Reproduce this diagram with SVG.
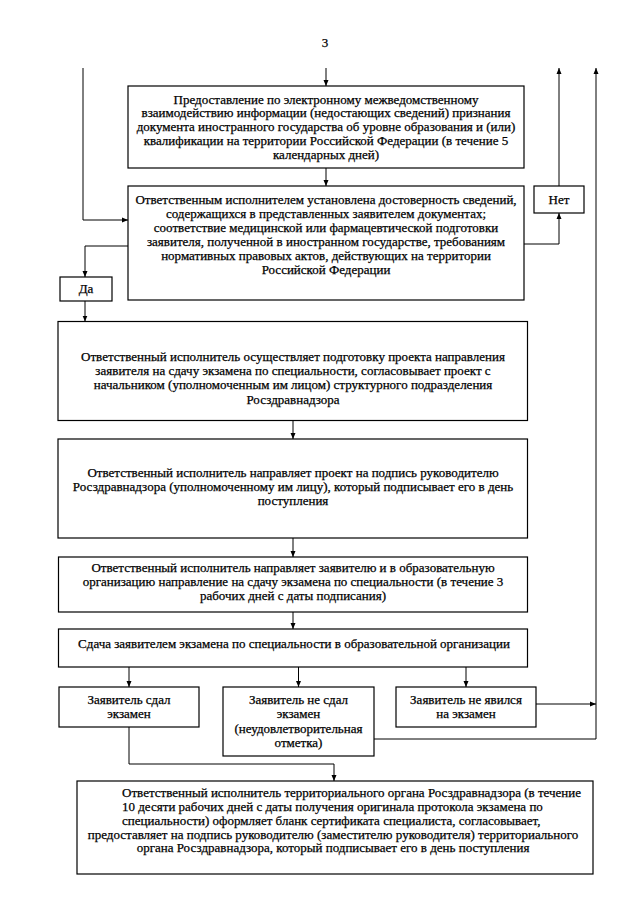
<svg xmlns="http://www.w3.org/2000/svg" width="640" height="905" viewBox="0 0 640 905">
<defs>
<style>
.box{fill:#fff;stroke:#000;stroke-width:1.2}
.t{font-family:"Liberation Serif","Times New Roman",serif;font-size:13px;fill:#000;stroke:#000;stroke-width:0.25;text-anchor:middle}
.ts{text-anchor:start}
.c{fill:none;stroke:#000;stroke-width:1}
</style>
<marker id="ah" markerUnits="userSpaceOnUse" markerWidth="6" markerHeight="6" refX="6" refY="3" orient="auto">
<path d="M0,0.5 L6,3 L0,5.5 z" fill="#000"/>
</marker>
</defs>
<rect width="640" height="905" fill="#fff"/>
<text class="t" x="325" y="47">3</text>
<g id="connectors">
<path class="c" d="M326,68 V86" marker-end="url(#ah)"/>
<path class="c" d="M326,168 V186" marker-end="url(#ah)"/>
<path class="c" d="M83,68 V220 H128" marker-end="url(#ah)"/>
<path class="c" d="M524,244 H559 V213" marker-end="url(#ah)"/>
<path class="c" d="M559,186 V68" marker-end="url(#ah)"/>
<path class="c" d="M128,246 H85 V277" marker-end="url(#ah)"/>
<path class="c" d="M85,301 V321.5" marker-end="url(#ah)"/>
<path class="c" d="M293,420.5 V439" marker-end="url(#ah)"/>
<path class="c" d="M293,538 V557" marker-end="url(#ah)"/>
<path class="c" d="M293,612 V629" marker-end="url(#ah)"/>
<path class="c" d="M129,667 V687" marker-end="url(#ah)"/>
<path class="c" d="M298.5,667 V687" marker-end="url(#ah)"/>
<path class="c" d="M466,667 V687" marker-end="url(#ah)"/>
<path class="c" d="M536,704 H596" marker-end="url(#ah)"/>
<path class="c" d="M374,739 H596 V68" marker-end="url(#ah)"/>
<path class="c" d="M129,727 V764 H334 V781" marker-end="url(#ah)"/>
</g>
<g id="n1">
<rect class="box" x="128" y="86" width="396" height="82"/>
<text class="t" x="326" y="103.5">Предоставление по электронному межведомственному</text>
<text class="t" x="326" y="117.3">взаимодействию информации (недостающих сведений) признания</text>
<text class="t" x="326" y="131">документа иностранного государства об уровне образования и (или)</text>
<text class="t" x="326" y="144.8">квалификации на территории Российской Федерации (в течение 5</text>
<text class="t" x="326" y="158.6">календарных дней)</text>
</g>
<g id="n2">
<rect class="box" x="128" y="186" width="396" height="114"/>
<text class="t" x="326" y="203.5">Ответственным исполнителем установлена достоверность сведений,</text>
<text class="t" x="326" y="217.5">содержащихся в представленных заявителем документах;</text>
<text class="t" x="326" y="231.5">соответствие медицинской или фармацевтической подготовки</text>
<text class="t" x="326" y="245.5">заявителя, полученной в иностранном государстве, требованиям</text>
<text class="t" x="326" y="259.5">нормативных правовых актов, действующих на территории</text>
<text class="t" x="326" y="273.5">Российской Федерации</text>
</g>
<g id="n_net">
<rect class="box" x="534" y="186" width="50" height="27"/>
<text class="t" x="559" y="203.5">Нет</text>
</g>
<g id="n_da">
<rect class="box" x="60" y="277" width="52" height="24"/>
<text class="t" x="86" y="293">Да</text>
</g>
<g id="n3">
<rect class="box" x="58" y="321.5" width="469.5" height="99"/>
<text class="t" x="293" y="361">Ответственный исполнитель осуществляет подготовку проекта направления</text>
<text class="t" x="293" y="375.2">заявителя на сдачу экзамена по специальности, согласовывает проект с</text>
<text class="t" x="293" y="389.4">начальником (уполномоченным им лицом) структурного подразделения</text>
<text class="t" x="293" y="403.6">Росздравнадзора</text>
</g>
<g id="n4">
<rect class="box" x="58" y="439" width="469.5" height="99"/>
<text class="t" x="293" y="477">Ответственный исполнитель направляет проект на подпись руководителю</text>
<text class="t" x="293" y="491">Росздравнадзора (уполномоченному им лицу), который подписывает его в день</text>
<text class="t" x="293" y="505">поступления</text>
</g>
<g id="n5">
<rect class="box" x="58.5" y="557" width="469" height="55"/>
<text class="t" x="293" y="572.3">Ответственный исполнитель направляет заявителю и в образовательную</text>
<text class="t" x="293" y="586.3">организацию направление на сдачу экзамена по специальности (в течение 3</text>
<text class="t" x="293" y="600.3">рабочих дней с даты подписания)</text>
</g>
<g id="n6">
<rect class="box" x="58.5" y="629" width="469" height="38"/>
<text class="t" x="294" y="647.5">Сдача заявителем экзамена по специальности в образовательной организации</text>
</g>
<g id="n7">
<rect class="box" x="59" y="687" width="140" height="40"/>
<text class="t" x="129" y="704">Заявитель сдал</text>
<text class="t" x="129" y="718.3">экзамен</text>
</g>
<g id="n8">
<rect class="box" x="223" y="687" width="151" height="69"/>
<text class="t" x="298.5" y="704">Заявитель не сдал</text>
<text class="t" x="298.5" y="718.3">экзамен</text>
<text class="t" x="298.5" y="732.5">(неудовлетворительная</text>
<text class="t" x="298.5" y="746.5">отметка)</text>
</g>
<g id="n9">
<rect class="box" x="396" y="687" width="140" height="40"/>
<text class="t" x="466" y="704">Заявитель не явился</text>
<text class="t" x="466" y="718.3">на экзамен</text>
</g>
<g id="n10">
<rect class="box" x="77" y="781" width="516" height="93"/>
<text class="t ts" x="122" y="797.3">Ответственный исполнитель территориального органа Росздравнадзора (в течение</text>
<text class="t ts" x="122" y="811.3">10 десяти рабочих дней с даты получения оригинала протокола экзамена по</text>
<text class="t ts" x="122" y="825">специальности) оформляет бланк сертификата специалиста, согласовывает,</text>
<text class="t" x="333" y="839">предоставляет на подпись руководителю (заместителю руководителя) территориального</text>
<text class="t" x="333" y="852.3">органа Росздравнадзора, который подписывает его в день поступления</text>
</g>
</svg>
